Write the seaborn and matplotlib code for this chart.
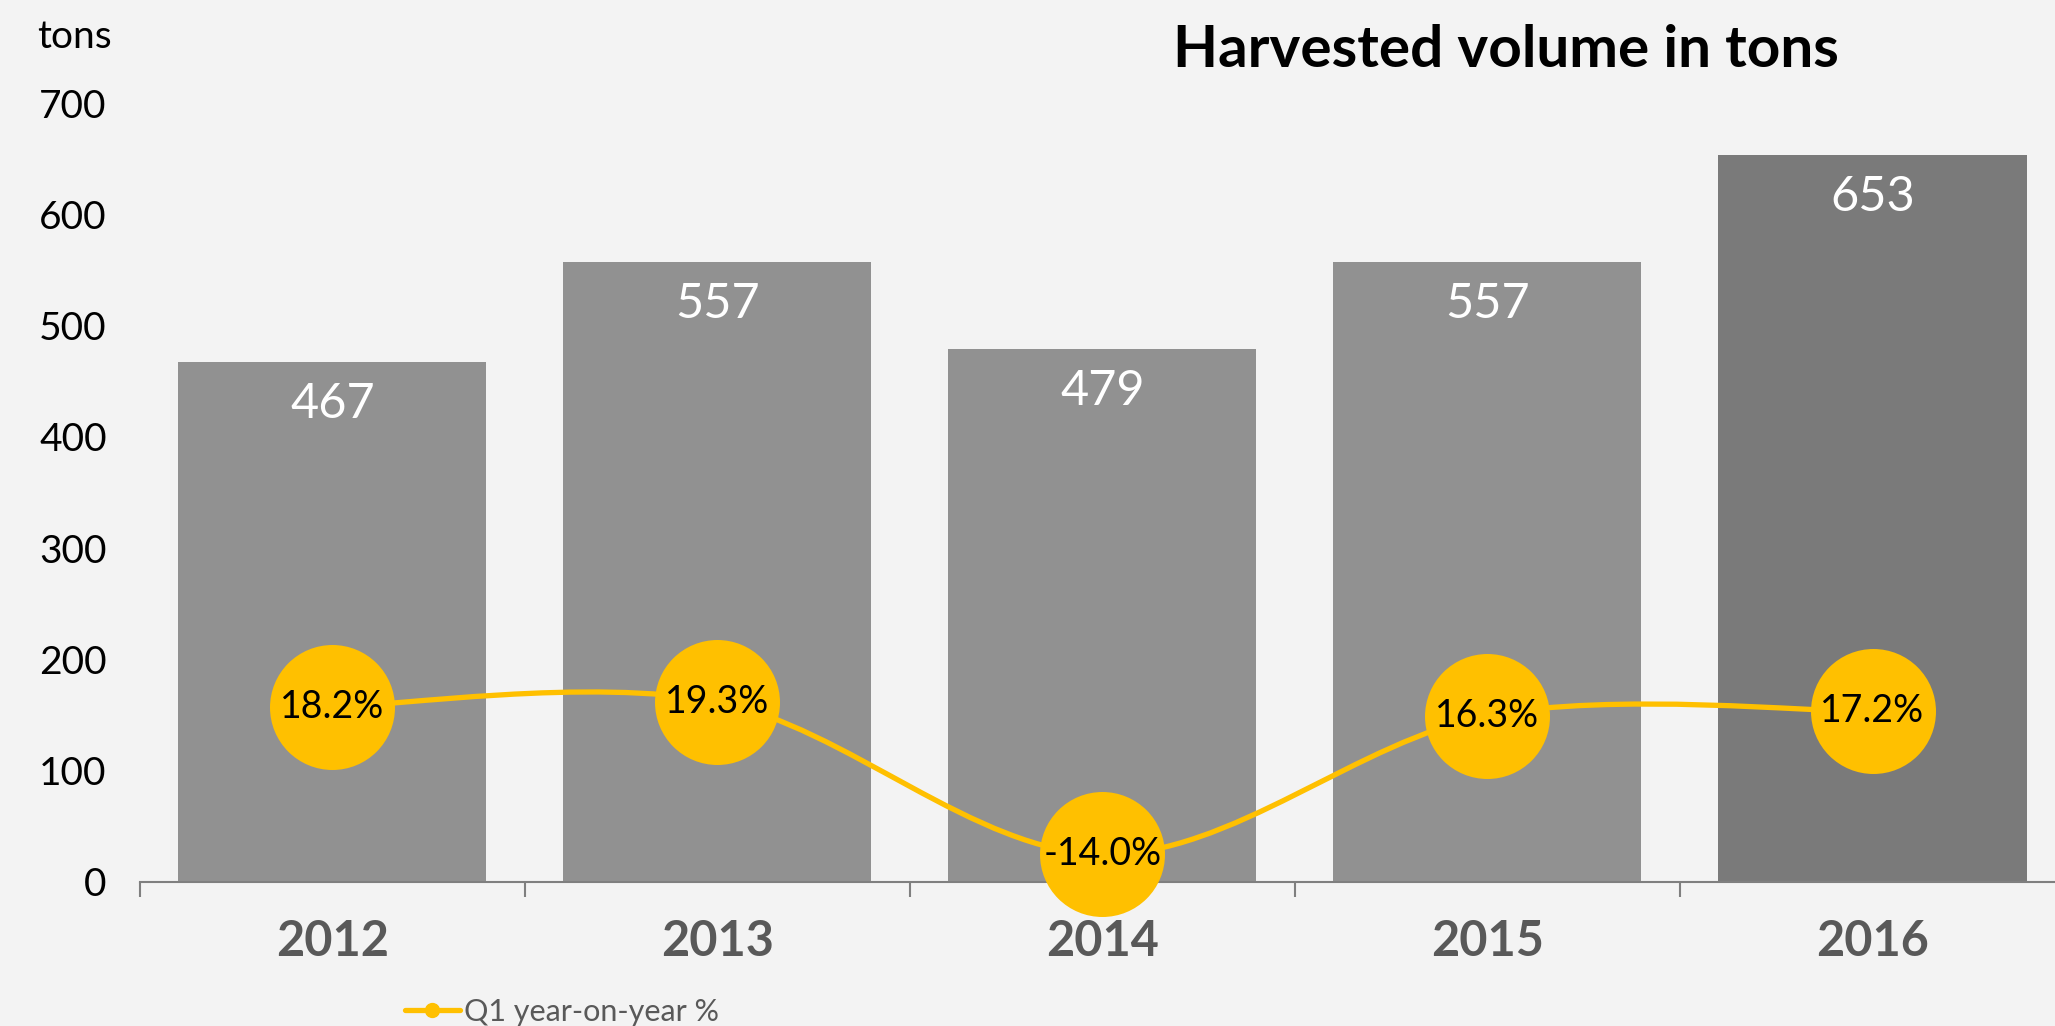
import numpy as np
import matplotlib.pyplot as plt
import seaborn as sns
from matplotlib.path import Path
from matplotlib.patches import PathPatch
from matplotlib.lines import Line2D

# data
years = ["2012", "2013", "2014", "2015", "2016"]
volumes = [467, 557, 479, 557, 653]
yoy_pct = [18.2, 19.3, -14.0, 16.3, 17.2]
bar_colors = ["#919191", "#919191", "#919191", "#919191", "#7a7a7a"]

sns.set_style("white")
plt.rcParams['font.family'] = ['Lato', 'DejaVu Sans']
plt.rcParams['text.color'] = 'black'

bg = "#f3f3f3"
yellow = "#FFC000"
grey_txt = "#595959"

fig = plt.figure(figsize=(20.55, 10.26), dpi=100, facecolor=bg)
ax = fig.add_axes([0.0681, 0.1404, 0.9319, 0.7592])
ax.set_facecolor(bg)

# bars
sns.barplot(x=years, y=volumes, hue=years, palette=bar_colors, legend=False,
            width=0.8, saturation=1, linewidth=0, ax=ax)
ax.set_ylim(0, 700)
ax.set_xlim(-0.5, 4.474)
ax.set_yticks(range(0, 701, 100))
ax.set_xlabel('')
ax.set_ylabel('')
ax.tick_params(axis='y', length=0, labelsize=28, pad=24, labelcolor='black')
ax.tick_params(axis='x', which='major', length=0, labelsize=35, pad=27, labelcolor=grey_txt)
for lbl in ax.get_xticklabels():
    lbl.set_fontweight('bold')
ax.set_xticks(np.arange(-0.5, 4.5, 1), minor=True)
ax.tick_params(axis='x', which='minor', bottom=True, length=11, width=1.5,
               color='#7f7f7f', direction='out')
for s in ['top', 'right', 'left']:
    ax.spines[s].set_visible(False)
ax.spines['bottom'].set_color('#7f7f7f')
ax.spines['bottom'].set_linewidth(1.5)

for i, v in enumerate(volumes):
    ax.annotate(f"{v}", (i, v), xytext=(0, -30), textcoords='offset points',
                ha='center', va='center', color='white', fontsize=35)

# percentage line on secondary axis
ax2 = ax.twinx()
ax2.set_ylim(-20, 150)
ax2.axis('off')

xs = np.arange(len(yoy_pct), dtype=float)
pts = np.column_stack([xs, yoy_pct])
verts = [pts[0]]
codes = [Path.MOVETO]
n = len(pts)
for k in range(n - 1):
    p0 = pts[max(k - 1, 0)]
    p1 = pts[k]
    p2 = pts[k + 1]
    p3 = pts[min(k + 2, n - 1)]
    verts += [p1 + (p2 - p0) / 6, p2 - (p3 - p1) / 6, p2]
    codes += [Path.CURVE4] * 3
ax2.add_patch(PathPatch(Path(verts, codes), facecolor='none', edgecolor=yellow,
                        lw=3.8, clip_on=False))
ax2.plot(xs, yoy_pct, 'o', ms=90, color=yellow, mec='none', clip_on=False)
for i, p in enumerate(yoy_pct):
    ax2.annotate(f"{p:.1f}%", (i, p), ha='center', va='center', fontsize=27, color='black')

handle = Line2D([], [], color=yellow, lw=3.8, marker='o', ms=10)
fig.legend([handle], ['Q1 year-on-year %'], loc='center left', bbox_to_anchor=(0.197, 0.014),
           frameon=False, fontsize=22, labelcolor=grey_txt, handlelength=1.8,
           handletextpad=0.15, borderaxespad=0, borderpad=0)

fig.text(0.733, 0.951, "Harvested volume in tons", ha='center', va='center',
         fontsize=42, fontweight='bold', color='black')
fig.text(0.018, 0.964, "tons", ha='left', va='center', fontsize=28, color='black')

fig.savefig('out.png', dpi=100, facecolor=bg)
